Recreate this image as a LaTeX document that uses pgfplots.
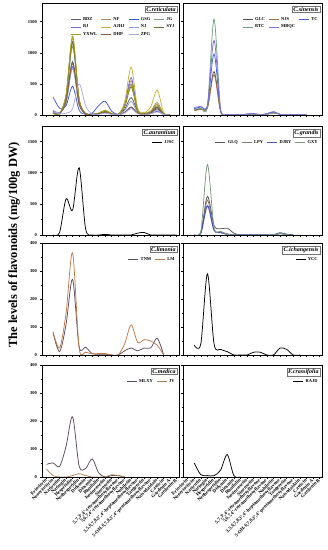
\documentclass[border=0pt]{standalone}
\usepackage{pgfplots}
\pgfplotsset{compat=1.18}
\usepackage{fontspec}
\setmainfont{Liberation Serif}
\usetikzlibrary{shadows}
\definecolor{cBDZ}{HTML}{5B5B7B}
\definecolor{cNF}{HTML}{B08A6A}
\definecolor{cGSG}{HTML}{3A5BD0}
\definecolor{cJG}{HTML}{7A9A7A}
\definecolor{cBJ}{HTML}{7B68C8}
\definecolor{cAJHJ}{HTML}{C8B432}
\definecolor{cNJ}{HTML}{8CA0D8}
\definecolor{cSYJ}{HTML}{6B6B2A}
\definecolor{cYXWL}{HTML}{A8A020}
\definecolor{cDHP}{HTML}{8B5A3A}
\definecolor{cZPG}{HTML}{A9A9E6}
\definecolor{cGLC}{HTML}{505050}
\definecolor{cNJS}{HTML}{A07040}
\definecolor{cTC}{HTML}{4060E0}
\definecolor{cBTC}{HTML}{70A080}
\definecolor{cMBQC}{HTML}{8070E0}
\definecolor{cGLQ}{HTML}{555555}
\definecolor{cLPY}{HTML}{8A7A70}
\definecolor{cDJBY}{HTML}{4A55C0}
\definecolor{cGXY}{HTML}{789878}
\definecolor{cTNM}{HTML}{5A4A5A}
\definecolor{cLM}{HTML}{C07848}
\definecolor{cJV}{HTML}{B08050}
\tikzset{
  ttl/.style={draw=black!55, fill=white, line width=0.4pt, inner sep=1.2pt,
    font=\fontsize{6}{7}\selectfont\bfseries\itshape, anchor=north east,
    drop shadow={shadow xshift=0.7pt, shadow yshift=-0.7pt, fill=black!45, opacity=1}},
}
\pgfplotsset{
  panel/.style={
    scale only axis, height=112pt,
    xmin=-0.7, xmax=20.35, ymin=0,
    xtick={0,...,20}, xticklabels={},
    tick align=outside, tick pos=left,
    major tick length=2pt, minor tick length=1.2pt,
    every tick/.style={black, line width=0.5pt},
    axis line style={line width=0.7pt},
    minor y tick num=1,
    /pgf/number format/assume math mode=true,
    /pgf/number format/1000 sep={},
    yticklabel style={font=\fontsize{4.5}{5}\selectfont\bfseries, xshift=0.5pt},
    legend style={draw=none, fill=none, at={(rel axis cs:0.985,0.89)}, anchor=north east,
      font=\fontsize{4.5}{5}\selectfont\bfseries, inner sep=0pt, row sep=-1pt,
      /tikz/every even column/.append style={column sep=1.5pt}},
    legend cell align=left,
    legend image code/.code={\draw[#1] (0pt,0pt) -- (10pt,0pt);},
    every axis plot/.append style={smooth, line width=0.75pt, mark=none},
  },
  leftc/.style={width=137pt},
  rightc/.style={width=139pt, yticklabels={}},
  xlab/.style={xticklabels={Eriocitrin,Neoeriocitrin,Narirutin,Naringin,Hesperidin,Neohesperidin,Didymin,Diosmin,Rhoifolin,Isosinensetin,Sinensetin,{5,7,3',4'-tetramethoxyflavone},{5,6,7,4'-tetramethoxyflavone},Nobiletin,{3,5,6,7,8,3',4'-heptamethoxyflavone},Tangeretin,{5-OH-6,7,8,3',4'-pentamethoxyflavone},Natsudaidain,Casticin,Gardenin A,Gardenin B},
  xticklabel style={rotate=45, anchor=east, font=\fontsize{4.9}{5}\selectfont\bfseries, inner sep=0.8pt}},
}
\begin{document}
\begin{tikzpicture}
\path[use as bounding box] (0pt,0pt) rectangle (328pt,550pt);
\node[rotate=90, font=\fontsize{12.5}{14}\selectfont\bfseries] at (14pt,305pt) {The levels of flavonoids (mg/100g DW)};
% Row 1 left: C.reticulata
\begin{axis}[panel, leftc, at={(42pt,435pt)}, anchor=south west, ymax=1800, ytick={0,500,1000,1500}, legend columns=4]
\addplot[cBDZ] coordinates {(1,60)(2,30)(3,250)(4,860)(5,200)(6,20)(7,10)(8,20)(9,60)(10,20)(11,10)(12,90)(13,280)(14,60)(15,20)(16,40)(17,120)(18,20)(19,0)};
\addplot[cNF] coordinates {(1,40)(2,20)(3,300)(4,1150)(5,250)(6,20)(7,10)(8,20)(9,50)(10,20)(11,10)(12,150)(13,550)(14,80)(15,20)(16,60)(17,200)(18,20)(19,0)};
\addplot[cGSG] coordinates {(1,290)(2,110)(3,150)(4,460)(5,80)(6,10)(7,30)(8,150)(9,220)(10,60)(11,10)(12,40)(13,120)(14,30)(15,10)(16,20)(17,60)(18,10)(19,0)};
\addplot[cJG] coordinates {(1,50)(2,20)(3,280)(4,1100)(5,230)(6,20)(7,10)(8,20)(9,40)(10,20)(11,10)(12,140)(13,500)(14,70)(15,20)(16,50)(17,150)(18,20)(19,0)};
\addplot[cBJ] coordinates {(1,60)(2,30)(3,200)(4,780)(5,170)(6,20)(7,10)(8,30)(9,70)(10,20)(11,10)(12,170)(13,600)(14,80)(15,20)(16,40)(17,100)(18,15)(19,0)};
\addplot[cAJHJ] coordinates {(1,30)(2,20)(3,320)(4,1230)(5,260)(6,20)(7,10)(8,30)(9,80)(10,30)(11,10)(12,210)(13,770)(14,110)(15,40)(16,130)(17,400)(18,40)(19,0)};
\addplot[cNJ] coordinates {(1,80)(2,40)(3,200)(4,750)(5,200)(6,30)(7,10)(8,20)(9,50)(10,20)(11,10)(12,70)(13,220)(14,40)(15,15)(16,30)(17,80)(18,10)(19,0)};
\addplot[cSYJ] coordinates {(1,30)(2,20)(3,310)(4,1180)(5,250)(6,20)(7,10)(8,20)(9,60)(10,20)(11,10)(12,130)(13,450)(14,60)(15,20)(16,50)(17,130)(18,20)(19,0)};
\addplot[cYXWL] coordinates {(1,30)(2,20)(3,330)(4,1270)(5,270)(6,20)(7,10)(8,30)(9,70)(10,20)(11,10)(12,140)(13,480)(14,70)(15,30)(16,60)(17,170)(18,20)(19,0)};
\addplot[cDHP] coordinates {(1,40)(2,20)(3,220)(4,830)(5,180)(6,20)(7,10)(8,20)(9,40)(10,15)(11,5)(12,40)(13,130)(14,30)(15,10)(16,30)(17,100)(18,15)(19,0)};
\addplot[cZPG] coordinates {(1,50)(2,20)(3,30)(4,100)(5,500)(6,150)(7,10)(8,10)(9,30)(10,10)(11,5)(12,30)(13,100)(14,20)(15,10)(16,20)(17,50)(18,10)(19,0)};
\legend{BDZ,NF,GSG,JG,BJ,AJHJ,NJ,SYJ,YXWL,DHP,ZPG}
\node[ttl] at (rel axis cs:0.985,0.975) {C.reticulata};
\end{axis}
% Row 1 right: C.sinensis
\begin{axis}[panel, rightc, at={(183pt,435pt)}, anchor=south west, ymax=1800, ytick={0,500,1000,1500}, legend columns=3]
\addplot[cGLC] coordinates {(1,80)(2,100)(3,120)(4,700)(5,60)(6,5)(7,0)(8,0)(9,10)(10,15)(11,5)(12,15)(13,40)(14,10)(15,0)(16,5)(17,10)(18,0)};
\addplot[cNJS] coordinates {(1,70)(2,90)(3,110)(4,650)(5,50)(6,5)(7,0)(8,0)(9,10)(10,10)(11,5)(12,10)(13,30)(14,10)(15,0)(16,5)(17,5)(18,0)};
\addplot[cTC] coordinates {(1,100)(2,130)(3,150)(4,980)(5,70)(6,5)(7,0)(8,0)(9,15)(10,20)(11,5)(12,20)(13,50)(14,10)(15,0)(16,5)(17,10)(18,0)};
\addplot[cBTC] coordinates {(1,90)(2,110)(3,140)(4,1540)(5,80)(6,5)(7,0)(8,0)(9,10)(10,15)(11,5)(12,15)(13,35)(14,10)(15,0)(16,5)(17,10)(18,0)};
\addplot[cMBQC] coordinates {(1,120)(2,140)(3,160)(4,1200)(5,80)(6,5)(7,0)(8,0)(9,15)(10,25)(11,5)(12,20)(13,55)(14,10)(15,0)(16,5)(17,10)(18,0)};
\legend{GLC,NJS,TC,BTC,MBQC}
\node[ttl] at (rel axis cs:0.985,0.975) {C.sinensis};
\end{axis}
% Row 2 left: C.aurantium
\begin{axis}[panel, leftc, at={(42pt,315pt)}, anchor=south west, height=109pt, ymax=1750, ytick={0,500,1000,1500}]
\addplot[black] coordinates {(1,0)(2,40)(3,580)(4,400)(5,1080)(6,100)(7,0)(8,0)(9,10)(10,0)(11,0)(12,0)(13,0)(14,30)(15,40)(16,0)(17,0)(18,0)(19,0)(20,0)};
\legend{JJSC}
\node[ttl] at (rel axis cs:0.985,0.975) {C.aurantium};
\end{axis}
% Row 2 right: C.grandis
\begin{axis}[panel, rightc, at={(183pt,315pt)}, anchor=south west, height=109pt, ymax=1750, ytick={0,500,1000,1500}, legend columns=4]
\addplot[cGLQ] coordinates {(1,0)(2,40)(3,620)(4,150)(5,100)(6,110)(7,30)(8,0)(9,0)(10,0)(11,0)(12,0)(13,0)(14,20)(15,10)(16,0)};
\addplot[cLPY] coordinates {(1,0)(2,30)(3,560)(4,80)(5,50)(6,20)(7,0)(8,0)(9,0)(10,0)(11,0)(12,0)(13,0)(14,25)(15,5)(16,0)};
\addplot[cDJBY, line width=1.1pt] coordinates {(1,0)(2,30)(3,470)(4,80)(5,40)(6,10)(7,0)(8,0)(9,0)(10,0)(11,0)(12,0)(13,0)(14,35)(15,10)(16,0)};
\addplot[cGXY] coordinates {(1,0)(2,50)(3,1130)(4,120)(5,60)(6,10)(7,0)(8,0)(9,0)(10,0)(11,0)(12,0)(13,0)(14,30)(15,5)(16,0)};
\legend{GLQ,LPY,DJBY,GXY}
\node[ttl] at (rel axis cs:0.985,0.975) {C.grandis};
\end{axis}
% Row 3 left: C.limonia
\begin{axis}[panel, leftc, at={(42pt,195pt)}, anchor=south west, ymax=400, ytick={0,100,200,300,400}, legend columns=2]
\addplot[cTNM] coordinates {(1,80)(2,12)(3,110)(4,270)(5,30)(6,28)(7,5)(8,3)(9,3)(10,0)(11,0)(12,15)(13,25)(14,15)(15,25)(16,25)(17,60)(18,0)};
\addplot[cLM] coordinates {(1,83)(2,25)(3,150)(4,365)(5,25)(6,10)(7,5)(8,5)(9,5)(10,0)(11,0)(12,40)(13,108)(14,45)(15,55)(16,50)(17,35)(18,0)};
\legend{TNM,LM}
\node[ttl] at (rel axis cs:0.985,0.975) {C.limonia};
\end{axis}
% Row 3 right: C.ichangensis
\begin{axis}[panel, rightc, at={(183pt,195pt)}, anchor=south west, ymax=400, ytick={0,100,200,300,400}]
\addplot[black] coordinates {(1,35)(2,40)(3,290)(4,40)(5,20)(6,12)(7,0)(8,0)(9,0)(10,10)(11,10)(12,0)(13,0)(14,25)(15,20)(16,0)(17,0)};
\legend{YCC}
\node[ttl] at (rel axis cs:0.985,0.975) {C.ichangensis};
\end{axis}
% Row 4 left: C.medica
\begin{axis}[panel, leftc, xlab, at={(42pt,73pt)}, anchor=south west, ymax=400, ytick={0,100,200,300,400}, legend columns=2]
\addplot[cTNM] coordinates {(0,45)(1,50)(2,38)(3,110)(4,215)(5,40)(6,30)(7,65)(8,15)(9,0)(10,5)(11,5)(12,0)};
\addplot[cJV] coordinates {(0,28)(1,5)(2,0)(3,0)(4,5)(5,12)(6,5)(7,0)(8,0)(9,0)(10,8)(11,5)(12,0)};
\legend{MLXY,JV}
\node[ttl] at (rel axis cs:0.985,0.975) {C.medica};
\end{axis}
% Row 4 right: F.crassifolia
\begin{axis}[panel, rightc, xlab, at={(183pt,73pt)}, anchor=south west, ymax=400, ytick={0,100,200,300,400}]
\addplot[black] coordinates {(1,50)(2,8)(3,5)(4,5)(5,25)(6,80)(7,5)(8,0)};
\legend{RAJD}
\node[ttl] at (rel axis cs:0.985,0.975) {F.crassifolia};
\end{axis}
\end{tikzpicture}
\end{document}
